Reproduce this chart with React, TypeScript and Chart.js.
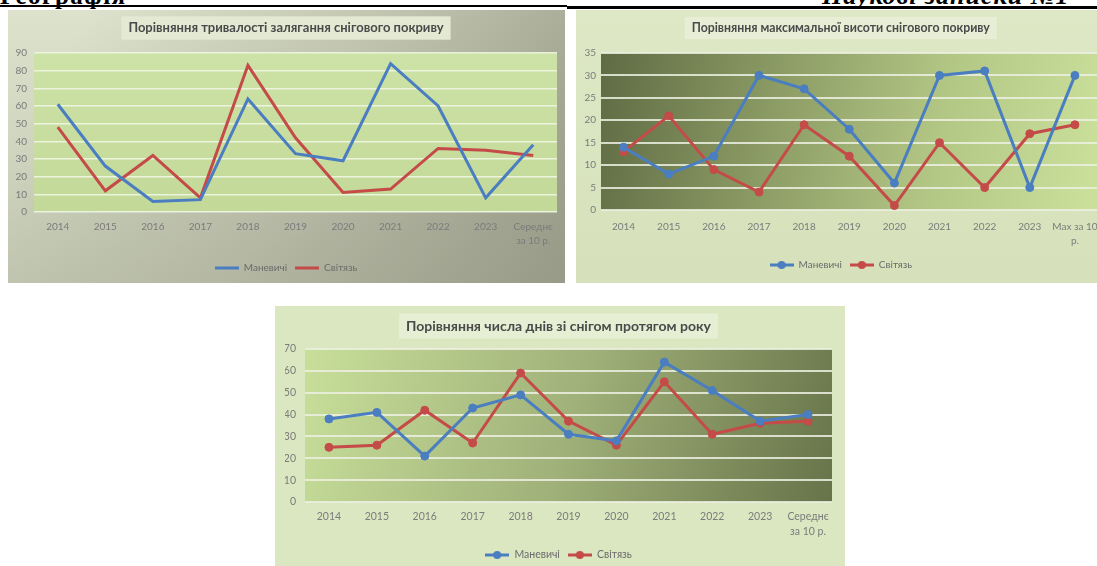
import React, { useEffect, useRef } from "react";
import { Chart, registerables } from "chart.js";

Chart.register(...registerables);

// ---------- data ----------
const yearLabels = ["2014", "2015", "2016", "2017", "2018", "2019", "2020", "2021", "2022", "2023"];
const avgLabel = ["Середнє", "за 10 р."];
const maxLabel = ["Max за 10", "р."];
const seriesNames = ["Маневичі", "Світязь"];

const title1 = "Порівняння тривалості залягання снігового покриву";
const manevychiDuration = [61, 26, 6, 7, 64, 33, 29, 84, 60, 8, 38];
const svitiazDuration = [48, 12, 32, 8, 83, 42, 11, 13, 36, 35, 32];

const title2 = "Порівняння максимальної висоти снігового покриву";
const manevychiHeight = [14, 8, 12, 30, 27, 18, 6, 30, 31, 5, 30];
const svitiazHeight = [13, 21, 9, 4, 19, 12, 1, 15, 5, 17, 19];

const title3 = "Порівняння числа днів зі снігом протягом року";
const manevychiDays = [38, 41, 21, 43, 49, 31, 28, 64, 51, 37, 40];
const svitiazDays = [25, 26, 42, 27, 59, 37, 26, 55, 31, 36, 37];

const headerLeft = "Географія";
const headerRight = "Наукові записки №1";

// ---------- styles ----------
const FONT = "Lato, 'Noto Sans', 'DejaVu Sans', sans-serif";
const BLUE = "#4a7ec0";
const RED = "#c44b48";

type Paint = (ctx: CanvasRenderingContext2D, x0: number, y0: number, x1: number, y1: number) => void;

type Spec = {
  labels: (string | string[])[];
  a: number[];
  b: number[];
  title: string;
  yMax: number;
  yStep: number;
  markers: boolean;
  titleSize: number;
  tickSize: number;
  legendSize: number;
  pad: { left: number; right: number; top: number; bottom: number };
  yWidth: number;
  yPad: number;
  xHeight: number;
  xPad: number;
  titlePadTop: number;
  titlePadBottom: number;
  legendPad: number;
  paintBox: Paint;
  paintPlot: Paint;
  titleBg: string;
  gridColor: string;
  gridWidth: number;
};

function makeIcon(color: string, marker: boolean) {
  const c = document.createElement("canvas");
  c.width = 24;
  c.height = 10;
  const g = c.getContext("2d")!;
  g.strokeStyle = color;
  g.lineWidth = 3;
  g.beginPath();
  g.moveTo(0, 5);
  g.lineTo(24, 5);
  g.stroke();
  if (marker) {
    g.fillStyle = color;
    g.beginPath();
    g.arc(12, 5, 4, 0, Math.PI * 2);
    g.fill();
  }
  return c;
}

function makeConfig(s: Spec): any {
  const colors = [BLUE, RED];
  const bgPlugin = {
    id: "bgs",
    beforeDraw(chart: any) {
      const { ctx, width, height, chartArea: ca } = chart;
      ctx.save();
      s.paintBox(ctx, 0, 0, width, height);
      s.paintPlot(ctx, ca.left, ca.top, ca.right, ca.bottom);
      const tb = chart.titleBlock;
      ctx.font = `bold ${s.titleSize}px ${FONT}`;
      const tw = ctx.measureText(s.title).width;
      const cx = (tb.left + tb.right) / 2;
      const cy = tb.top + s.titlePadTop + (s.titleSize * 1.2) / 2;
      const h = s.titleSize * 1.8;
      ctx.fillStyle = s.titleBg;
      ctx.fillRect(cx - tw / 2 - 7, cy - h / 2, tw + 14, h);
      ctx.restore();
    },
  };
  return {
    type: "line",
    data: {
      labels: s.labels,
      datasets: [s.a, s.b].map((d, i) => ({
        label: seriesNames[i],
        data: d,
        borderColor: colors[i],
        backgroundColor: colors[i],
        borderWidth: 3,
        tension: 0,
        fill: false,
        pointRadius: s.markers ? 4 : 0,
        pointHoverRadius: s.markers ? 4 : 0,
        pointBackgroundColor: colors[i],
        pointBorderColor: colors[i],
        pointBorderWidth: 1,
      })),
    },
    plugins: [bgPlugin],
    options: {
      responsive: false,
      animation: false,
      events: [],
      layout: { padding: s.pad },
      scales: {
        x: {
          type: "category",
          offset: true,
          grid: { display: false, drawTicks: false },
          border: { display: false },
          ticks: {
            autoSkip: false,
            maxRotation: 0,
            minRotation: 0,
            padding: s.xPad,
            color: "#7b7b7b",
            font: { family: FONT, size: s.tickSize, lineHeight: 1.4 },
          },
          afterFit(scale: any) {
            scale.height = s.xHeight;
          },
        },
        y: {
          min: 0,
          max: s.yMax,
          grid: { color: s.gridColor, lineWidth: s.gridWidth, drawTicks: false },
          border: { display: false },
          ticks: {
            stepSize: s.yStep,
            padding: s.yPad,
            color: "#7b7b7b",
            font: { family: FONT, size: s.tickSize },
          },
          afterFit(scale: any) {
            scale.width = s.yWidth;
          },
        },
      },
      plugins: {
        title: {
          display: true,
          text: s.title,
          color: "#4a4a4a",
          font: { family: FONT, size: s.titleSize, weight: "bold", lineHeight: 1.2 },
          padding: { top: s.titlePadTop, bottom: s.titlePadBottom },
        },
        legend: {
          display: true,
          position: "bottom",
          labels: {
            usePointStyle: true,
            pointStyleWidth: 24,
            padding: s.legendPad,
            color: "#6b6b6b",
            font: { family: FONT, size: s.legendSize },
            generateLabels: () =>
              seriesNames.map((n, i) => ({
                text: n,
                pointStyle: makeIcon(colors[i], s.markers),
                fillStyle: colors[i],
                strokeStyle: colors[i],
                lineWidth: 0,
                hidden: false,
                datasetIndex: i,
                fontColor: "#6b6b6b",
              })),
          },
        },
        tooltip: { enabled: false },
      },
    },
  };
}

const paintBox1: Paint = (ctx, x0, y0, x1, y1) => {
  const g = ctx.createLinearGradient(x0 + (x1 - x0) * 0.15, y0, x1, y1);
  g.addColorStop(0, "#dce2cc");
  g.addColorStop(0.45, "#c3c7b2");
  g.addColorStop(1, "#989b87");
  ctx.fillStyle = g;
  ctx.fillRect(x0, y0, x1 - x0, y1 - y0);
  const v = ctx.createLinearGradient(0, y0, 0, y1);
  v.addColorStop(0, "rgba(150,154,135,0)");
  v.addColorStop(1, "rgba(150,154,135,0.35)");
  ctx.fillStyle = v;
  ctx.fillRect(x0, y0, x1 - x0, y1 - y0);
};
const paintPlot1: Paint = (ctx, x0, y0, x1, y1) => {
  const g = ctx.createLinearGradient(0, y0, 0, y1);
  g.addColorStop(0, "#cde2a6");
  g.addColorStop(1, "#c3d998");
  ctx.fillStyle = g;
  ctx.fillRect(x0, y0, x1 - x0, y1 - y0);
};
const paintBox2: Paint = (ctx, x0, y0, x1, y1) => {
  const g = ctx.createLinearGradient(0, y0, 0, y1);
  g.addColorStop(0, "#dee8c6");
  g.addColorStop(1, "#d6e1bb");
  ctx.fillStyle = g;
  ctx.fillRect(x0, y0, x1 - x0, y1 - y0);
};
const paintPlot2: Paint = (ctx, x0, y0, x1, y1) => {
  const g = ctx.createLinearGradient(x0, y0, x1, y0 + (y1 - y0) * 0.6);
  g.addColorStop(0, "#5f6b44");
  g.addColorStop(0.35, "#8b9b64");
  g.addColorStop(0.7, "#b4c886");
  g.addColorStop(1, "#c9df9a");
  ctx.fillStyle = g;
  ctx.fillRect(x0, y0, x1 - x0, y1 - y0);
};
const paintBox3: Paint = (ctx, x0, y0, x1, y1) => {
  ctx.fillStyle = "#dbe7c1";
  ctx.fillRect(x0, y0, x1 - x0, y1 - y0);
};
const paintPlot3: Paint = (ctx, x0, y0, x1, y1) => {
  const g = ctx.createLinearGradient(x0, y0, x1, y1);
  g.addColorStop(0, "#c8df9a");
  g.addColorStop(0.5, "#a0b179");
  g.addColorStop(1, "#677349");
  ctx.fillStyle = g;
  ctx.fillRect(x0, y0, x1 - x0, y1 - y0);
};

const spec1: Spec = {
  labels: [...yearLabels, avgLabel],
  a: manevychiDuration,
  b: svitiazDuration,
  title: title1,
  yMax: 90,
  yStep: 10,
  markers: false,
  titleSize: 13,
  tickSize: 10,
  legendSize: 10,
  pad: { left: 7, right: 8, top: 0, bottom: 0 },
  yWidth: 19,
  yPad: 7,
  xHeight: 43,
  xPad: 8,
  titlePadTop: 10.2,
  titlePadBottom: 17.2,
  legendPad: 8,
  paintBox: paintBox1,
  paintPlot: paintPlot1,
  titleBg: "#e3e9d3",
  gridColor: "rgba(240,246,228,0.9)",
  gridWidth: 1.5,
};

const spec2: Spec = {
  labels: [...yearLabels, maxLabel],
  a: manevychiHeight,
  b: svitiazHeight,
  title: title2,
  yMax: 35,
  yStep: 5,
  markers: true,
  titleSize: 12.3,
  tickSize: 10,
  legendSize: 10,
  pad: { left: 8, right: 14.5, top: 0, bottom: 3 },
  yWidth: 17,
  yPad: 5,
  xHeight: 42,
  xPad: 10,
  titlePadTop: 10.6,
  titlePadBottom: 17.6,
  legendPad: 8,
  paintBox: paintBox2,
  paintPlot: paintPlot2,
  titleBg: "#e7eed5",
  gridColor: "rgba(236,240,226,0.85)",
  gridWidth: 2,
};

const spec3: Spec = {
  labels: [...yearLabels, avgLabel],
  a: manevychiDays,
  b: svitiazDays,
  title: title3,
  yMax: 70,
  yStep: 10,
  markers: true,
  titleSize: 14,
  tickSize: 10.5,
  legendSize: 10.5,
  pad: { left: 10, right: 13, top: 0, bottom: 5.75 },
  yWidth: 20,
  yPad: 9,
  xHeight: 39.75,
  xPad: 7.6,
  titlePadTop: 11.6,
  titlePadBottom: 14.6,
  legendPad: 8,
  paintBox: paintBox3,
  paintPlot: paintPlot3,
  titleBg: "#e6eed4",
  gridColor: "rgba(236,240,226,0.85)",
  gridWidth: 2,
};

function ChartBox(props: { spec: Spec; left: number; top: number; width: number; height: number }) {
  const ref = useRef<HTMLCanvasElement | null>(null);
  useEffect(() => {
    const c = ref.current!;
    const chart = new Chart(c, makeConfig(props.spec));
    return () => chart.destroy();
  }, []);
  return (
    <canvas
      ref={ref}
      width={props.width}
      height={props.height}
      style={{
        position: "absolute",
        left: props.left,
        top: props.top,
        width: props.width,
        height: props.height,
        display: "block",
      }}
    />
  );
}

const serif = "'Liberation Serif', 'DejaVu Serif', serif";

export default function App() {
  return (
    <div
      style={{
        position: "fixed",
        left: 0,
        top: 0,
        width: 1097,
        height: 566,
        overflow: "hidden",
        background: "#ffffff",
      }}
    >
      <div
        style={{
          position: "absolute",
          left: 0,
          top: -16,
          fontFamily: serif,
          fontWeight: "bold",
          fontSize: 25,
          lineHeight: "24px",
          letterSpacing: "1.5px",
          whiteSpace: "nowrap",
          color: "#000",
        }}
      >
        {headerLeft}
      </div>
      <div
        style={{
          position: "absolute",
          left: 822,
          top: -16,
          fontFamily: serif,
          fontWeight: "bold",
          fontStyle: "italic",
          fontSize: 26,
          lineHeight: "24px",
          letterSpacing: "1px",
          whiteSpace: "nowrap",
          color: "#000",
        }}
      >
        {headerRight}
      </div>
      <div style={{ position: "absolute", left: 0, top: 5, width: 567, height: 2, background: "#000" }} />
      <div style={{ position: "absolute", left: 567, top: 6, width: 530, height: 2.5, background: "#000" }} />
      <ChartBox spec={spec1} left={8} top={10} width={557} height={273} />
      <ChartBox spec={spec2} left={576} top={10} width={536} height={273} />
      <ChartBox spec={spec3} left={275} top={306} width={570} height={270} />
    </div>
  );
}
